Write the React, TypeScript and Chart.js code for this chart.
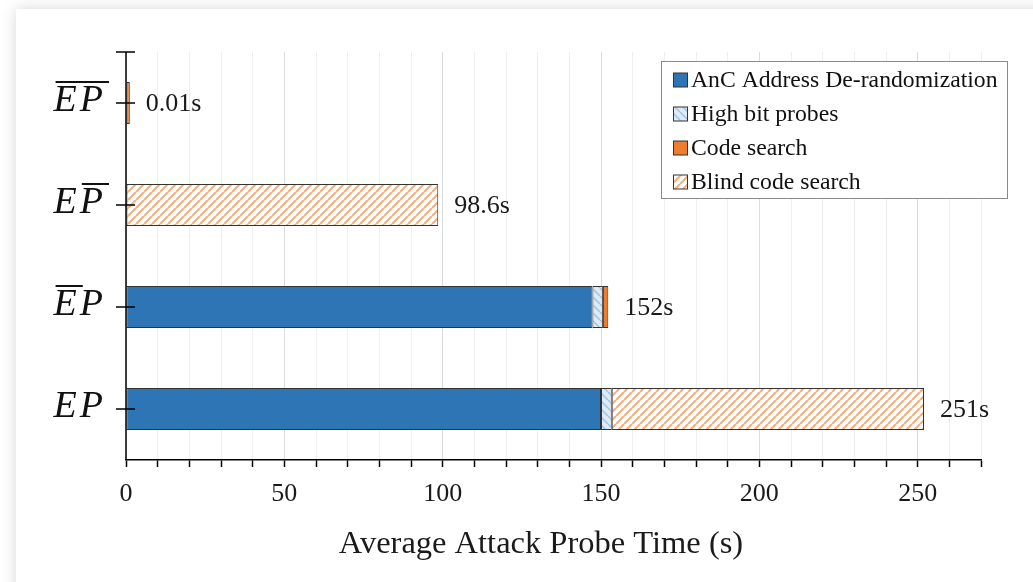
import React, { useEffect, useRef } from "react";
import { Chart, registerables } from "chart.js";

Chart.register(...registerables);

// ---- data ----
const categories = ["E\u0305P\u0305", "EP\u0305", "E\u0305P", "EP"];
const seriesNames = ["AnC Address De-randomization", "High bit probes", "Code search", "Blind code search"];
const ancValues = [null, null, 147.3, 150.0];
const highBitValues = [null, null, 3.3, 3.4];
const codeSearchValues = [1.2, null, 1.7, null];
const blindSearchValues = [null, 98.6, null, 98.6];
const totalLabels = ["0.01s", "98.6s", "152s", "251s"];
const xTickLabels = [0, 50, 100, 150, 200, 250];
const xMax = 270;
const xTitle = "Average Attack Probe Time (s)";

const FONT = "'Liberation Serif', 'Times New Roman', serif";

function makeHatch(bg: string, stripe: string, dir: 1 | -1, lw: number) {
  const s = 8;
  const c = document.createElement("canvas");
  c.width = s;
  c.height = s;
  const g = c.getContext("2d")!;
  g.fillStyle = bg;
  g.fillRect(0, 0, s, s);
  g.strokeStyle = stripe;
  g.lineWidth = lw;
  g.beginPath();
  for (let k = -1; k <= 1; k++) {
    if (dir === 1) {
      g.moveTo(k * s, s);
      g.lineTo(k * s + s, 0);
    } else {
      g.moveTo(k * s, 0);
      g.lineTo(k * s + s, s);
    }
  }
  g.stroke();
  return g.createPattern(c, "repeat")!;
}

function parseGlyphs(s: string) {
  const out: { ch: string; over: boolean }[] = [];
  for (const ch of s) {
    if (ch === "\u0305") {
      if (out.length) out[out.length - 1].over = true;
    } else out.push({ ch, over: false });
  }
  return out;
}

const decorPlugin = {
  id: "decor",
  afterDatasetsDraw(chart: any) {
    const { ctx, chartArea } = chart;
    const xs = chart.scales.x;
    const ys = chart.scales.y;
    ctx.save();
    // y axis line
    ctx.strokeStyle = "#000";
    ctx.lineWidth = 1.5;
    ctx.beginPath();
    ctx.moveTo(chartArea.left, chartArea.top);
    ctx.lineTo(chartArea.left, chartArea.bottom);
    ctx.stroke();
    // top crossing tick
    ctx.beginPath();
    ctx.moveTo(chartArea.left - 10, chartArea.top);
    ctx.lineTo(chartArea.left + 9, chartArea.top);
    ctx.stroke();
    // category ticks + labels
    categories.forEach((cat, i) => {
      const cy = ys.getPixelForValue(i);
      ctx.strokeStyle = "#000";
      ctx.lineWidth = 1.5;
      ctx.beginPath();
      ctx.moveTo(chartArea.left - 10, cy);
      ctx.lineTo(chartArea.left + 9, cy);
      ctx.stroke();
      const glyphs = parseGlyphs(cat);
      ctx.font = `italic 38px ${FONT}`;
      ctx.fillStyle = "#111";
      ctx.textBaseline = "middle";
      ctx.textAlign = "left";
      const widths = glyphs.map((g) => ctx.measureText(g.ch).width + 3);
      const total = widths.reduce((a, b) => a + b, 0);
      let x = chartArea.left - 20 - total;
      glyphs.forEach((g, k) => {
        ctx.fillText(g.ch, x, cy - 2);
        if (g.over) {
          ctx.lineWidth = 2;
          ctx.strokeStyle = "#111";
          ctx.beginPath();
          ctx.moveTo(x + 2, cy - 21);
          ctx.lineTo(x + widths[k] + 3, cy - 21);
          ctx.stroke();
        }
        x += widths[k];
      });
      // total labels
      const sum =
        (ancValues[i] || 0) + (highBitValues[i] || 0) + (codeSearchValues[i] || 0) + (blindSearchValues[i] || 0);
      ctx.font = `26px ${FONT}`;
      ctx.fillStyle = "#1a1a1a";
      ctx.fillText(totalLabels[i], xs.getPixelForValue(sum) + 16, cy + 1);
    });
    // x axis title
    ctx.font = `32.5px ${FONT}`;
    ctx.fillStyle = "#1a1a1a";
    ctx.textAlign = "center";
    ctx.textBaseline = "middle";
    ctx.fillText(xTitle, 541, 544);
    ctx.restore();
  },
  afterDraw(chart: any) {
    const { ctx } = chart;
    ctx.save();
    const bx = 661.5,
      by = 61.5,
      bw = 346,
      bh = 137;
    ctx.fillStyle = "#fff";
    ctx.fillRect(bx, by, bw, bh);
    ctx.strokeStyle = "#8a8a8a";
    ctx.lineWidth = 1;
    ctx.strokeRect(bx, by, bw, bh);
    chart.data.datasets.forEach((ds: any, i: number) => {
      const cy = 80 + i * 34;
      ctx.fillStyle = ds.backgroundColor;
      ctx.fillRect(673.5, cy - 7, 14, 14);
      ctx.strokeStyle = "#333";
      ctx.lineWidth = 1;
      ctx.strokeRect(673.5, cy - 7, 14, 14);
      ctx.font = `23.7px ${FONT}`;
      ctx.fillStyle = "#111";
      ctx.textBaseline = "middle";
      ctx.textAlign = "left";
      ctx.fillText(ds.label, 691, cy + 1);
    });
    ctx.restore();
  },
};

export default function App() {
  const ref = useRef<HTMLCanvasElement>(null);
  useEffect(() => {
    const canvas = ref.current!;
    const highBitPattern = makeHatch("#DEEBF7", "#9DC3E6", -1, 1.5);
    const blindPattern = makeHatch("#FFFFFF", "#F4B183", 1, 2.2);
    const common = {
      barPercentage: 0.41,
      categoryPercentage: 1,
      borderWidth: 1,
      borderColor: "#333",
      borderSkipped: false,
    };
    const chart = new Chart(canvas, {
      type: "bar",
      data: {
        labels: categories,
        datasets: [
          { label: seriesNames[0], data: ancValues, backgroundColor: "#2E75B6", ...common },
          { label: seriesNames[1], data: highBitValues, backgroundColor: highBitPattern, ...common },
          { label: seriesNames[2], data: codeSearchValues, backgroundColor: "#ED7D31", ...common },
          { label: seriesNames[3], data: blindSearchValues, backgroundColor: blindPattern, ...common },
        ] as any,
      },
      options: {
        indexAxis: "y",
        responsive: false,
        devicePixelRatio: 1,
        animation: false,
        layout: { padding: { left: 126, right: 52, top: 52, bottom: 0 } },
        plugins: { legend: { display: false }, tooltip: { enabled: false } },
        scales: {
          x: {
            type: "linear",
            stacked: true,
            min: 0,
            max: xMax,
            position: "bottom",
            afterFit: (s: any) => {
              s.height = 122;
            },
            grid: {
              color: (c: any) => (c.tick && c.tick.value % 50 === 0 ? "#dcdcdc" : "#efefef"),
              lineWidth: 1,
              tickLength: 7,
              tickColor: "#000",
              tickWidth: 1.5,
            },
            border: { color: "#000", width: 1.5 },
            ticks: {
              stepSize: 10,
              autoSkip: false,
              maxRotation: 0,
              callback: (v: any) => (xTickLabels.includes(Number(v)) ? String(v) : ""),
              font: { family: FONT, size: 26 },
              color: "#1a1a1a",
              padding: 12,
            },
            title: { display: false, text: xTitle },
          },
          y: {
            type: "category",
            stacked: true,
            display: false,
          },
        },
      } as any,
      plugins: [decorPlugin],
    });
    return () => chart.destroy();
  }, []);

  return (
    <div style={{ position: "fixed", left: 0, top: 0, width: 1033, height: 582, background: "#fff", overflow: "hidden" }}>
      <div
        style={{
          position: "absolute",
          left: 16,
          top: 9,
          width: 1100,
          height: 700,
          background: "#fff",
          boxShadow: "0 0 14px rgba(0,0,0,0.16)",
        }}
      />
      <canvas ref={ref} width={1033} height={582} style={{ position: "absolute", left: 0, top: 0, width: 1033, height: 582 }} />
    </div>
  );
}
